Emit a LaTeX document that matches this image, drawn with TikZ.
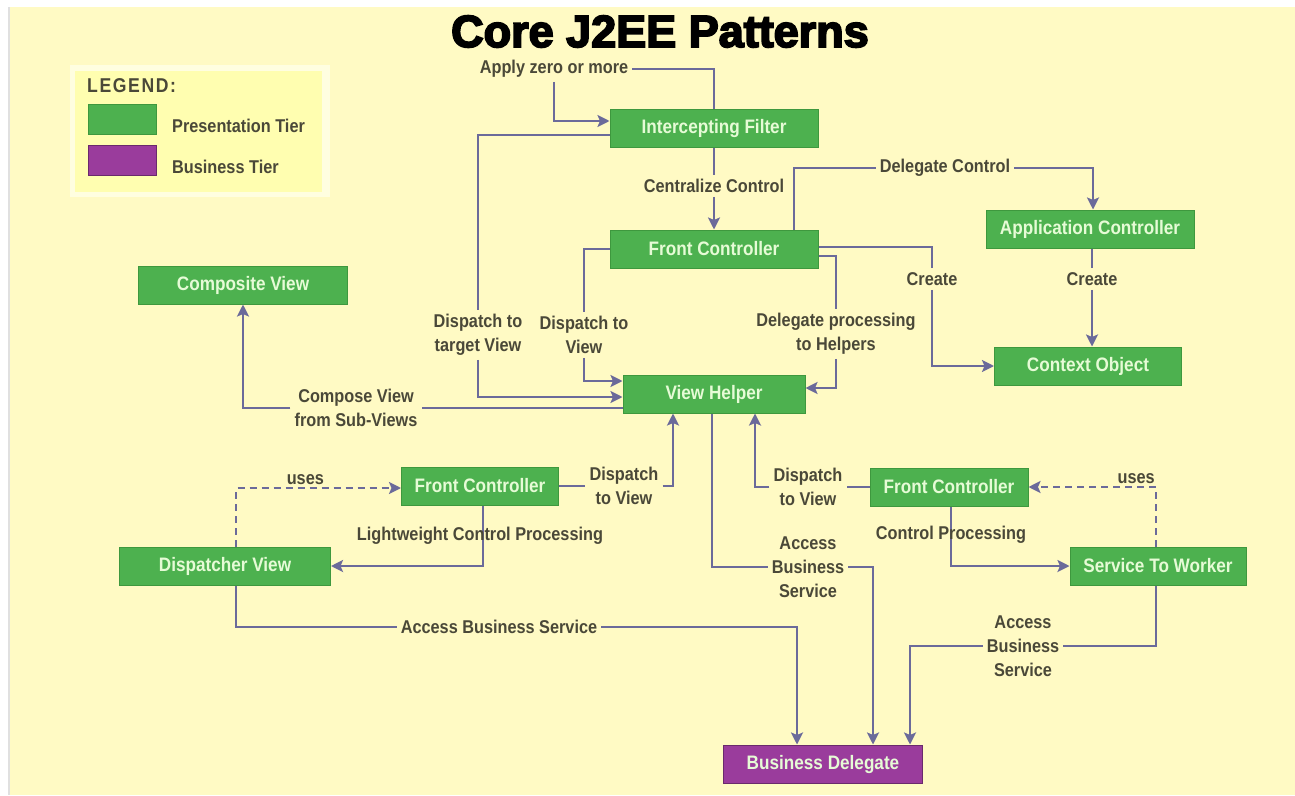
\documentclass[tikz,border=0pt]{standalone}
\usepackage{fontspec}
\setmainfont{Liberation Sans}[FakeStretch=0.88]
\newfontfamily\titlefont{Liberation Sans}[BoldFeatures={FakeBold=4}]
\usetikzlibrary{arrows.meta}

\definecolor{bg}{HTML}{FFFAC4}
\definecolor{legendfill}{HTML}{FFFEB0}
\definecolor{legendedge}{HTML}{FFFEE0}
\definecolor{boxgreen}{HTML}{4DB14F}
\definecolor{boxedge}{HTML}{3E983E}
\definecolor{boxtext}{HTML}{E6FBD6}
\definecolor{bizpurple}{HTML}{9A3C9C}
\definecolor{bizedge}{HTML}{6A2A6C}
\definecolor{linkcol}{HTML}{6B6A9A}
\definecolor{lbltext}{HTML}{4A4838}

\newcommand\nodefont{\fontsize{19.5}{22}\selectfont\bfseries}
\newcommand\lblfont{\fontsize{18.5}{24}\selectfont\bfseries}

\begin{document}
\begin{tikzpicture}[x=1pt,y=-1pt,
  box/.style={draw=boxedge, line width=1pt, fill=boxgreen, text=boxtext,
    font=\nodefont, inner sep=0pt, minimum height=38pt},
  bizbox/.style={box, draw=bizedge, fill=bizpurple},
  lbl/.style={text=lbltext, font=\lblfont, align=center, inner sep=4pt},
  link/.style={draw=linkcol, line width=2.8pt},
  arr/.style={link, -{Stealth[length=12pt,width=12pt,inset=2.5pt]}},
  dashlink/.style={arr, dash pattern=on 7pt off 5pt},
]
\useasboundingbox (0,0) rectangle (1295,795);

% page background
\fill[white] (0,0) rectangle (1295,795);
\fill[black!12] (8,7) rectangle (10,795);
\fill[bg] (10,7) rectangle (1295,795);

% title
\node[anchor=base, inner sep=0pt] (title) at (660,47)
  {\titlefont\bfseries\fontsize{45}{50}\selectfont Core J2EE Patterns};

% legend
\fill[legendedge] (70,65) rectangle (330,197);
\fill[legendfill] (75,71) rectangle (322,192);
\node[anchor=base west, inner sep=0pt, text=lbltext,
  font=\fontsize{20}{22}\selectfont\bfseries\addfontfeature{LetterSpace=8}]
  (legtitle) at (87,92) {LEGEND:};
\node[draw=boxedge, fill=boxgreen, minimum width=68pt, minimum height=30pt,
  inner sep=0pt, anchor=north west] (legpres) at (88,104) {};
\node[draw=bizedge, fill=bizpurple, minimum width=68pt, minimum height=30pt,
  inner sep=0pt, anchor=north west] (legbiz) at (88,145) {};
\node[lbl, anchor=west, inner sep=0pt] (legpreslbl) at (172,126) {Presentation Tier};
\node[lbl, anchor=west, inner sep=0pt] (legbizlbl) at (172,167) {Business Tier};

% pattern boxes
\node[box, minimum width=208pt] (filter)   at (714,128) {Intercepting Filter};
\node[box, minimum width=208pt] (front)    at (714,249) {Front Controller};
\node[box, minimum width=208pt] (appctl)   at (1090,229) {Application Controller};
\node[box, minimum width=187pt] (context)  at (1088,366) {Context Object};
\node[box, minimum width=209pt] (composite) at (243,285) {Composite View};
\node[box, minimum width=182pt] (helper)   at (714,394) {View Helper};
\node[box, minimum width=157pt] (frontL)   at (480,486) {Front Controller};
\node[box, minimum width=211pt] (dispview) at (225,566) {Dispatcher View};
\node[box, minimum width=158pt] (frontR)   at (949,487) {Front Controller};
\node[box, minimum width=176pt] (worker)   at (1158,566) {Service To Worker};
\node[bizbox, minimum width=199pt] (delegate) at (823,764) {Business Delegate};

% connector labels
\node[lbl] (applyl)   at (554,69)  {Apply zero or more};
\node[lbl] (centrl)   at (714,186) {Centralize Control};
\node[lbl] (targetl)  at (478,335) {Dispatch to\\target View};
\node[lbl] (dispvl)   at (584,335) {Dispatch to\\View};
\node[lbl] (helpersl) at (836,334) {Delegate processing\\to Helpers};
\node[lbl] (createl)  at (932,279) {Create};
\node[lbl] (delctll)  at (945,168) {Delegate Control};
\node[lbl] (create2l) at (1092,279) {Create};
\node[lbl] (composel) at (356,408) {Compose View\\from Sub-Views};
\node[lbl] (dispLl)   at (624,486) {Dispatch\\to View};
\node[lbl] (dispRl)   at (808,487) {Dispatch\\to View};
\node[lbl] (accessDl) at (499,627) {Access Business Service};
\node[lbl] (accessHl) at (808,567) {Access\\Business\\Service};
\node[lbl] (accessWl) at (1023,646) {Access\\Business\\Service};

% filter chain and central control
\draw[link] (filter.north) |- (applyl.east);
\draw[arr] (applyl.south) |- ([yshift=7pt]filter.west);
\draw[link] (filter.south) -- (centrl.north);
\draw[arr] (centrl.south) -- (front.north);

% dispatching to the view helper
\draw[link] ([yshift=-7pt]filter.west) -| (targetl.north);
\draw[arr] (targetl.south) |- ([yshift=-3pt]helper.west);
\draw[link] (front.west) -| (dispvl.north);
\draw[arr] (dispvl.south) |- ([yshift=13pt]helper.west);
\draw[link] ([yshift=-7pt]front.east) -| (helpersl.north);
\draw[arr] (helpersl.south) |- ([yshift=6pt]helper.east);

% context creation and application control
\draw[link] ([yshift=2pt]front.east) -| (createl.north);
\draw[arr] (createl.south) |- (context.west);
\draw[link] ([xshift=80pt]front.north) |- (delctll.west);
\draw[arr] (delctll.east) -| ([xshift=3pt]appctl.north);
\draw[link] ([xshift=2pt]appctl.south) -- (create2l.north);
\draw[arr] (create2l.south) -- (create2l.south |- context.north);

% composite view
\draw[link] ([yshift=-14pt]helper.west) -- (composel.east);
\draw[arr] (composel.west) -| (composite.south);

% lower front controllers
\draw[link] (frontL.east) -- (dispLl.west);
\draw[arr] (dispLl.east) -| ([xshift=-41pt]helper.south);
\draw[link] (frontR.west) -- (dispRl.east);
\draw[arr] (dispRl.west) -| ([xshift=41pt]helper.south);

\draw[arr] ([xshift=3pt]frontL.south) |- (dispview.east);
\node[lbl] (lightl) at (480,536) {Lightweight Control Processing};
\draw[arr] ([xshift=2pt]frontR.south) |- (worker.west);
\node[lbl] (ctrlprocl) at (951,535) {Control Processing};

\draw[dashlink] ([xshift=11pt]dispview.north) |- node[lbl, pos=0.71, above, inner sep=2pt] {uses} ([yshift=-2pt]frontL.west);
\draw[dashlink] ([xshift=-2pt]worker.north) |- node[lbl, pos=0.578, above, inner sep=2pt] {uses} (frontR.east);

% access to the business tier
\draw[link] ([xshift=11pt]dispview.south) |- (accessDl.west);
\draw[arr] (accessDl.east) -| ([xshift=-26pt]delegate.north);
\draw[link] ([xshift=-2pt]helper.south) |- (accessHl.west);
\draw[arr] (accessHl.east) -| ([xshift=50pt]delegate.north);
\draw[link] ([xshift=-2pt]worker.south) |- (accessWl.east);
\draw[arr] (accessWl.west) -| ([xshift=87pt]delegate.north);
\end{tikzpicture}
\end{document}
